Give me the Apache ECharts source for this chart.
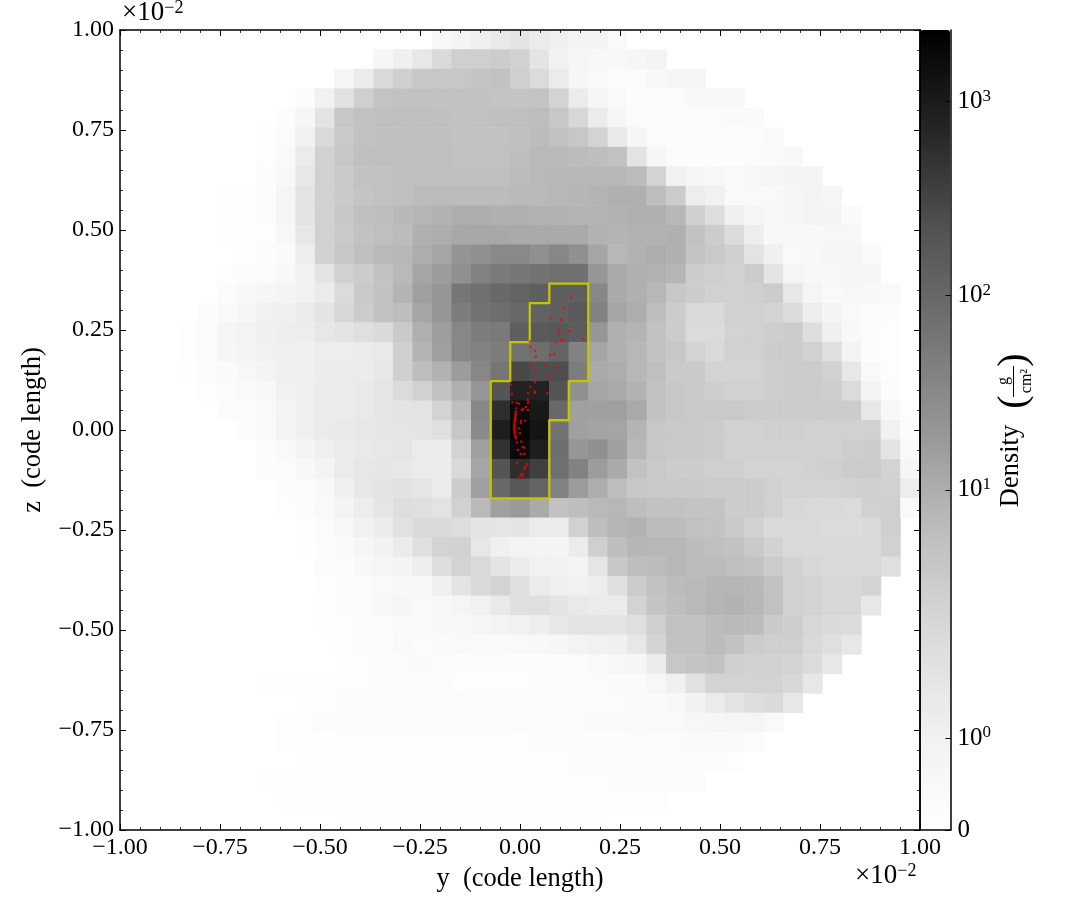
<!DOCTYPE html>
<html><head><meta charset="utf-8">
<style>html,body{margin:0;padding:0;background:#fff}#c{width:1085px;height:920px}</style>
<script src="https://cdn.jsdelivr.net/npm/echarts@6/dist/echarts.min.js"></script>
</head><body><div id="c"></div>
<script>
// Density per cell, one array per row from the top; each array begins at column firstCol[row]
const firstCol = [16,13,11,9,8,7,7,7,5,5,5,6,5,5,4,3,3,3,4,5,6,7,7,8,8,9,9,10,10,10,10,11,11,7,9,8,8,9,7,8,11];
const row00=[.5,.78,1.09,1.44,1.66,1.34,1.09,.78,.78,.43];
const row01=[.65,1.09,1.52,2.12,2.93,2.93,3.3,2.72,1.66,1,.65,.5,.5,.65,.85];
const row02=[.7,1.34,2.14,2.93,4.1,4.1,4.1,4.6,5,2.93,2.07,1.34,.65,.43,.31,.31,.5,.65,.65];
const row03=[.31,1,1.78,2.93,4.6,5,5,5,5,5,4.6,4.6,4.6,2.4,1.34,.65,.43,.25,.25,.31,.5,.5,.5];
const row04=[.19,.65,1.7,4.1,5,5.5,5.8,5.8,5.5,5,5.2,5.5,5.8,6.2,4.1,2.25,1.34,.65,.31,.19,.19,.19,.31,.37,.37];
const row05=[.13,.31,1,2.18,3.74,5,5.5,5.8,5.8,5.5,5,5,5,5.5,6.4,5,4.1,2.4,1.44,.65,.31,.19,.19,.19,.25,.31,.43];
const row06=[.13,.43,1.34,2.72,4.1,5.5,5.8,5.8,5.8,5.8,5.35,5.2,5.35,6,7,6.8,6.5,6,5,1.7,.65,.31,.25,.25,.25,.31,.37,.5];
const row07=[.19,.5,1.52,2.72,3.74,5,5.35,5.8,5.8,5.8,5.8,5.8,5.8,6.4,7,7.2,7.5,7.5,7.5,6.4,2.4,1,.65,.58,.43,.58,.65,.78,.78];
const row08=[.07,.07,.25,.7,1.66,2.72,3.6,4.6,5.2,5.8,6.4,6.4,6.5,6.5,6.5,6.8,7,7.5,7.65,8.1,9.35,9.35,6,3.3,1.21,1,.43,.43,.43,.7,.85,.7];
const row09=[.07,.07,.19,.7,1.7,2.72,4.1,5.4,5.9,7.25,7.7,8.75,10,10,9.35,9.35,8.75,8.75,8.1,8.1,8.75,9.35,9.35,7.5,2.8,2,1.09,.65,.5,.65,.78,.78,.37];
const row10=[.07,.07,.13,.5,1.52,2.72,3.74,5,5.8,6.5,9.35,10,11.7,12.3,11.9,11,11,11,11,8.75,8.1,8.75,8.75,9.35,5,3.3,2.02,1.21,.5,.5,.5,.58,.58];
const row11=[.07,.19,.37,1.21,2.72,4.1,5.8,7,7.5,10,12.8,22,25,32,32,25,34,25,12.8,7.5,8.75,10,9.35,4.6,3.74,2.8,1.7,1.09,.43,.5,.65,.65,.43];
const row12=[.13,.19,.31,.5,1,1.66,2.72,3.3,5,7,12.8,17,25,40,52,58,67,74,74,20.4,11,9.35,8.75,7.9,3.3,2.93,2.72,3.3,1.66,.7,.5,.5,.65,.65];
const row13=[.31,.5,.65,.78,1,1.34,2.07,3.74,5,8.1,14.9,20.4,61,74,95,114,135,135,135,34,11,9.35,7.5,4.1,3.3,2.72,2.72,2.93,3.3,1.52,.7,.43,.58,.5,.43];
const row14=[.19,.43,.65,1,1.09,1.34,1.66,2.25,3.3,5,6,12.8,20.4,47,67,79,100,122,135,163,40,12.8,10,6,3.3,2.18,2.18,2.72,2.72,2.4,2.07,1.21,.78,.43,.31,.25];
const row15=[.13,.31,.65,.85,1.09,1.17,1.21,1.52,1.66,1.87,2.14,3.6,9.35,16,34,47,52,135,163,175,150,20.4,9.35,8.1,5,3.3,2.07,2.07,2.5,2.72,3.06,3.3,1.95,1.09,.5,.25,.13];
const row16=[.13,.31,.65,.78,1,1.09,1.09,1.21,1.21,1.34,1.44,2.93,8.1,14.9,34,40,47,67,79,114,40,12.8,9.35,7.5,5,4.1,2.5,2.18,2.72,2.72,3.3,3.3,2.72,1.87,.85,.19,.13];
const row17=[.07,.19,.37,.58,.78,1.09,1.09,1.26,1.34,1.34,1.52,2.8,6,8.75,17,34,61,280,240,240,47,11,10,7.5,5.8,3.6,3.6,2.5,2.5,2.5,3.06,3.3,3.3,2.72,1.52,.43,.13];
const row18=[.13,.31,.43,.5,1,1.13,1.26,1.34,1.44,1.61,2.07,2.72,5,9.35,20.4,197,770,770,197,25,12.8,11,8.75,5,4.1,3.6,3.06,2.72,2.72,3.06,3.3,3.3,3.06,2.07,.78,.25];
const row19=[.19,.31,.43,.78,1.13,1.26,1.34,1.44,1.61,1.66,1.7,2.4,6,34,560,1690,1040,95,14.9,14.9,14.9,11,5,4.1,3.74,3.74,3.74,3.3,3.3,3.3,3.3,3.3,3.3,1.52,.5,.13];
const row20=[.25,.37,.78,1.09,1.34,1.44,1.52,1.56,1.61,1.66,1.87,4.1,31,890,2000,1225,67,14.9,13.6,12.8,8.1,4.1,3.74,3.74,3.3,2.72,2.72,2.93,2.93,2.72,2.72,2.72,2.72,1,.19];
const row21=[.25,.43,.78,1.13,1.34,1.44,1.52,1.61,1.34,1.34,2.4,14.9,510,1690,890,79,20.4,25,14.9,7.5,4.1,3.74,3.74,3.3,2.72,2.72,2.72,2.72,2.72,2.72,3.06,3.3,1.66,.43];
const row22=[.19,.31,.5,.78,1.34,1.52,1.56,1.52,1.26,1.26,2.18,12.8,197,560,345,74,40,17,11,5,3.74,3.3,3.3,2.93,2.93,2.5,2.5,2.5,2.72,2.93,3.3,3.3,2.4,.65];
const row23=[.19,.31,.5,1.09,1.52,1.7,1.75,1.61,1.34,3.3,14.9,95,175,114,40,17,10,6,4.1,3.74,3.74,3.74,3.3,3.3,3.3,2.72,2.5,2.5,2.5,2.72,2.93,2.72,1.21];
const row24=[.13,.25,.43,.78,1.21,1.61,1.95,1.87,1.7,2.72,7,14.9,18,11,5,6,7,7.5,6,5,5,4.6,4.6,3.3,3.3,2.72,2.25,2.18,2.18,2.07,2.72,2.93,.43];
const row25=[.13,.31,.58,1,1.34,1.78,2.14,2.12,2,1.66,1.61,1.66,1.34,1.34,2.72,6,7.9,8.75,6.5,6.5,5.35,5,3.6,2.72,2.18,2.18,2.12,2.07,2.07,2.14,2.93];
const row26=[.07,.25,.37,.65,.92,1.3,1.87,2.4,2.6,1.52,1.09,.85,.78,.78,1.34,2.93,6,7.65,7.5,7.5,6.5,5.5,5,3.6,2.6,2.18,2.14,2.12,2.12,2.14,2.72];
const row27=[.19,.31,.5,.7,.78,1.17,1.95,2.4,2.18,1.66,1.34,1,1,.78,1.61,4.1,6,6.5,7.5,6.5,6.5,5.8,5,3.3,2.72,2.25,2.18,2.18,2.18,1.87];
const row28=[.13,.25,.31,.43,.5,.5,1.09,1.66,2.14,2.4,1.9,1.34,1.09,1,1.21,1.87,3.3,5,6.5,7,7.65,7.9,7.5,5,2.72,2.4,2.25,2.25,2.4];
const row29=[.07,.19,.31,.5,.65,.43,.5,.7,1,1.44,1.84,1.87,1.66,1.44,1.3,1.34,2.4,4.6,6,7,7.9,8.75,7.5,5.35,2.72,2.4,2.25,2.25,1.52];
const row30=[.07,.13,.19,.31,.43,.43,.5,.5,.65,.85,1,1.17,1.52,1.7,1.7,1.7,1.87,2.93,5.35,5,6.5,7,6.4,3.6,3.06,2.25,2.14,2.07];
const row31=[.13,.19,.25,.43,.31,.37,.43,.37,.37,.43,.5,.65,.85,1,1.09,1.52,2.4,5,5,6.4,5,3.3,2.93,2.93,2.18,1.87,1.52];
const row32=[.07,.13,.19,.31,.37,.31,.25,.19,.19,.25,.19,.19,.31,.43,.58,.65,1.34,4.1,4.6,5,2.93,2.72,2.72,2.4,2.07,1.52];
const row33=[.07,.07,.07,.1,.15,.15,.2,.2,.28,.28,.15,.15,.15,.15,.2,.25,.25,.31,.37,.37,.58,1.09,1.78,2.4,2.4,2.5,2.5,2.25,1.52];
const row34=[.13,.13,.19,.19,.19,.19,.19,.25,.31,.25,.19,.19,.25,.25,.25,.31,.31,.37,.37,.5,.92,1.34,1.7,1.95,2.12,1.52];
const row35=[.13,.13,.19,.19,.25,.25,.25,.25,.25,.25,.25,.25,.31,.31,.31,.31,.37,.37,.37,.43,.43,.58,.65,.7,.7,.43];
const row36=[.13,.07,.07,.13,.13,.13,.13,.13,.13,.13,.13,.13,.13,.19,.25,.25,.25,.25,.31,.31,.31,.37,.37,.37,.31];
const row37=[.07,.07,.07,.07,.07,.07,.07,.07,.07,.07,.07,.07,.13,.13,.19,.19,.19,.25,.25,.25,.25,.19,.13];
const row38=[.07,.07,.07,.07,.07,.07,.13,.13,.13,.07,.07,.07,.07,.07,.07,.13,.13,.13,.19,.19,.19,.19,.19];
const row39=[.07,.07,.07,.07,.07,.07,.07,.07,.07,.07,.07,.07,.07,.07,.13,.13,.13,.13,.13,.13];
const row40=[.07,.07,.07,.07,.07,.07,.07,.07,.07,.07,.07,.07,.07,.07];
const rows=[row00,row01,row02,row03,row04,row05,row06,row07,row08,row09,row10,row11,row12,row13,row14,row15,row16,row17,row18,row19,row20,row21,row22,row23,row24,row25,row26,row27,row28,row29,row30,row31,row32,row33,row34,row35,row36,row37,row38,row39,row40];

// Yellow contour, in code length (x 10^-2)
const contourY=[-0.0732,-0.0244,-0.0244,0.0244,0.0244,0.0732,0.0732,0.1707,0.1707,0.1220,0.1220,0.0732,0.0732,-0.0732,-0.0732];
const contourZ=[0.1220,0.1220,0.2195,0.2195,0.3171,0.3171,0.3659,0.3659,0.1220,0.1220,0.0244,0.0244,-0.1707,-0.1707,0.1220];

// Red particles, in code length (x 10^-2)
const particleY=[.128,.111,.076,.104,.103,.098,.098,.123,.025,.090,.104,.109,.157,.026,.038,.039,.075,.086,.030,.037,.063,.093,.073,.038,.026,-.022,-.020,.037,.037,.020,.068,.020,.020,-.019,-.008,-.003,.007,.015,.020,.005,-.009,-.010,-.011,-.012,.002,.002,.013,-.013,-.014,-.014,-.013,-.012,-.003,.000,-.010,-.008,.003,.007,.011,-.005,.002,.011,-.007,.017,.013,.011,.007,.002,.006,-.003,-.012,-.013,-.014,-.014,-.014,-.013,-.011,-.011];
const particleZ=[.331,.305,.278,.278,.274,.249,.239,.247,.221,.220,.224,.224,.228,.208,.198,.183,.188,.190,.161,.148,.164,.157,.133,.119,.108,.113,.090,.096,.093,.092,.092,.075,.068,.069,.068,.066,.053,.057,.050,.050,.054,.046,.037,.029,.023,.017,.023,.021,.012,.004,-.004,-.013,.004,-.008,-.021,-.031,-.029,-.043,-.044,-.050,-.060,-.060,-.083,-.086,-.092,-.098,-.110,-.111,-.116,-.121,.033,.025,.016,.008,.000,-.008,-.017,.041];

const colorbarTicks=[0,1,10,100,1000];
const colorbarLabels=['0','{b|10}{s|0}','{b|10}{s|1}','{b|10}{s|2}','{b|10}{s|3}'];

// Colour-bar position of a density (linear below the threshold, log above)
const LIN=2.38;
function pos(v){return v<LIN?0.115*v:0.2737+0.243*Math.log10(v/LIN);}

const FONT='"Liberation Serif"';
const cats=[...Array(41).keys()].map(String);
const cells=[];
rows.forEach((r,i)=>r.forEach((v,j)=>cells.push([firstCol[i]+j,i,v,pos(v)])));

function fmt(v){return v.toFixed(2).replace('-','\u2212');}
function spatial(type,position,labelled,name){
  const a={type:'value',gridIndex:0,position,min:-1,max:1,interval:0.25,z:5,
    axisLine:{show:true,onZero:false,lineStyle:{color:'#000',width:1.5}},
    axisTick:{show:true,inside:true,length:6,lineStyle:{color:'#000',width:1}},
    minorTick:{show:true,splitNumber:5,length:3,lineStyle:{color:'#000',width:0.8}},
    splitLine:{show:false},minorSplitLine:{show:false},
    axisLabel:{show:labelled,formatter:fmt,color:'#000',fontFamily:FONT,fontSize:24,margin:6,showMinLabel:true,showMaxLabel:true,hideOverlap:false}};
  if(name){a.name=name;a.nameLocation='middle';a.nameTextStyle={color:'#000',fontFamily:FONT,fontSize:26.5};
    a.nameGap=type==='x'?36:73;if(type==='y')a.nameRotate=90;}
  return a;
}
const option={
  backgroundColor:'#fff',animation:false,
  textStyle:{fontFamily:FONT},
  grid:[{left:120,top:30,width:800,height:800,containLabel:false},
        {left:920,top:30,width:30.5,height:800,containLabel:false}],
  xAxis:[
    {type:'category',gridIndex:0,data:cats,show:false},
    spatial('x','bottom',true,'y  (code length)'),
    spatial('x','top',false),
    {type:'value',gridIndex:1,min:0,max:1,position:'bottom',z:5,axisTick:{show:false},axisLabel:{show:false},splitLine:{show:false},axisLine:{show:true,onZero:false,lineStyle:{color:'#000',width:1.5}}}
  ],
  yAxis:[
    {type:'category',gridIndex:0,data:cats,inverse:true,show:false},
    spatial('y','left',true,'z  (code length)'),
    spatial('y','right',false),
    {type:'value',gridIndex:1,min:0,max:1,position:'right',z:5,
      axisLine:{show:true,onZero:false,lineStyle:{color:'#000',width:1.5}},splitLine:{show:false},
      axisTick:{show:true,inside:true,length:5,customValues:colorbarTicks.map(pos),lineStyle:{color:'#000',width:1}},
      axisLabel:{show:true,customValues:colorbarTicks.map(pos),margin:7,color:'#000',fontFamily:FONT,fontSize:25,
        formatter:function(val){
          let k=0;colorbarTicks.forEach((t,i)=>{if(Math.abs(pos(t)-val)<1e-6)k=i;});
          return colorbarLabels[k];
        },
        rich:{b:{fontFamily:FONT,fontSize:25,color:'#000',lineHeight:27},
              s:{fontFamily:FONT,fontSize:17,color:'#000',verticalAlign:'top',lineHeight:27,padding:[0,0,0,0]}}}},
    {type:'value',gridIndex:1,min:0,max:1,position:'left',z:5,axisTick:{show:false},axisLabel:{show:false},splitLine:{show:false},axisLine:{show:true,onZero:false,lineStyle:{color:'#000',width:1.5}}}
  ],
  visualMap:{type:'continuous',seriesIndex:0,dimension:3,min:0,max:1,left:920,top:30,itemWidth:30,itemHeight:800,padding:0,
    calculable:false,realtime:false,text:null,showLabel:false,
    inRange:{color:['#ffffff','#f0f0f0','#d9d9d9','#bdbdbd','#969696','#737373','#525252','#252525','#000000']}},
  series:[
    {type:'heatmap',name:'Density',xAxisIndex:0,yAxisIndex:0,data:cells,encode:{x:0,y:1,value:2},progressive:0,z:1},
    {type:'line',name:'contour',xAxisIndex:1,yAxisIndex:1,data:contourY.map((y,i)=>[y,contourZ[i]]),showSymbol:false,symbol:'none',
      lineStyle:{color:'#c4c400',width:2.3,join:'round'},z:3,silent:true},
    {type:'scatter',name:'particles',xAxisIndex:1,yAxisIndex:1,data:particleY.map((y,i)=>[y,particleZ[i]]),symbol:'rect',symbolSize:2.2,
      itemStyle:{color:'#ff0000'},z:4,silent:true}
  ],
  graphic:[
    {type:'text',left:122,top:-1,silent:true,style:{text:'\u00d710{s|\u22122}',fill:'#000',font:'27px '+FONT,
      rich:{s:{fontFamily:FONT,fontSize:18,fill:'#000',verticalAlign:'top'}}}},
    {type:'text',left:855,top:862,silent:true,style:{text:'\u00d710{s|\u22122}',fill:'#000',font:'27px '+FONT,
      rich:{s:{fontFamily:FONT,fontSize:18,fill:'#000',verticalAlign:'top'}}}},
    {type:'text',x:1011,y:466,rotation:Math.PI/2,silent:true,style:{text:'Density',fill:'#000',font:'26.5px '+FONT,align:'center',verticalAlign:'middle'}},
    {type:'text',x:1014,y:402,rotation:Math.PI/2,silent:true,style:{text:'(',fill:'#000',font:'40px '+FONT,align:'center',verticalAlign:'middle'}},
    {type:'text',x:1014,y:360,rotation:Math.PI/2,silent:true,style:{text:')',fill:'#000',font:'40px '+FONT,align:'center',verticalAlign:'middle'}},
    {type:'text',x:1004,y:381,rotation:Math.PI/2,silent:true,style:{text:'g',fill:'#000',font:'16px '+FONT,align:'center',verticalAlign:'middle'}},
    {type:'text',x:1027,y:381,rotation:Math.PI/2,silent:true,style:{text:'cm\u00b2',fill:'#000',font:'16px '+FONT,align:'center',verticalAlign:'middle'}},
    {type:'rect',shape:{x:1013,y:366,width:1,height:31},silent:true,style:{fill:'#000'}}
  ]
};
const chart=echarts.init(document.getElementById('c'),null,{renderer:'canvas',width:1085,height:920});
chart.setOption(option);
</script></body></html>
